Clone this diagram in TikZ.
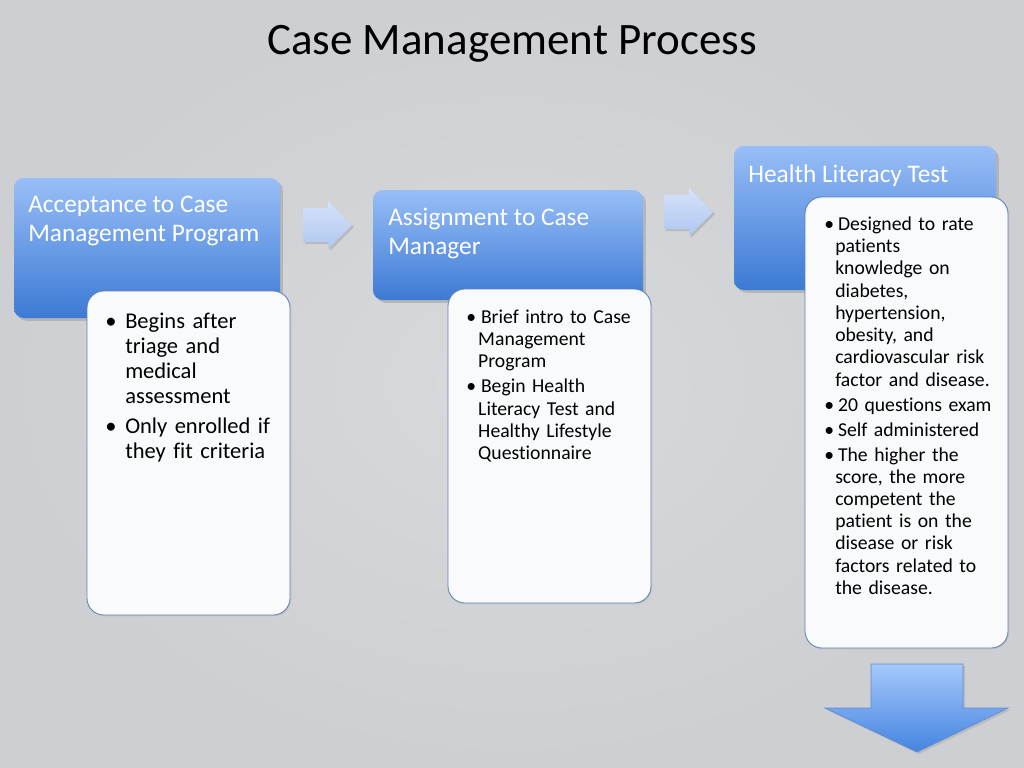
\documentclass[tikz,border=0pt]{standalone}
\usepackage{fontspec}
\setmainfont{Carlito}[Ligatures=NoCommon]
\usepackage{enumitem}
\usetikzlibrary{positioning}
\usetikzlibrary{fit}
\usetikzlibrary{shadows}

\definecolor{bgmid}{RGB}{216,217,219}
\definecolor{bgedge}{RGB}{206,207,210}
\definecolor{hdrtop}{RGB}{152,190,247}
\definecolor{hdrmid}{RGB}{118,166,238}
\definecolor{hdrbot}{RGB}{60,122,212}
\definecolor{bodyfill}{RGB}{249,250,251}
\definecolor{bodyline}{RGB}{96,128,180}
\definecolor{fwdtop}{RGB}{214,226,248}
\definecolor{fwdbot}{RGB}{174,199,241}
\definecolor{downtop}{RGB}{165,201,251}
\definecolor{downbot}{RGB}{68,132,224}
\definecolor{downline}{RGB}{98,138,208}

\setlist[itemize]{label=\textbullet, align=left, topsep=0pt, parsep=0pt, partopsep=0pt,
    before={\raggedright}}

\tikzset{
    hdrbox/.style={rounded corners=7pt, inner sep=0pt,
        top color=hdrtop, middle color=hdrmid, bottom color=hdrbot,
        drop shadow={shadow xshift=2pt, shadow yshift=-2pt, opacity=0.35}},
    bodybox/.style={rounded corners=12pt, inner sep=0pt, draw=bodyline, line width=0.6pt,
        fill=bodyfill,
        drop shadow={shadow xshift=1pt, shadow yshift=-1pt, opacity=0.15}},
    hdrtext/.style={anchor=north west, inner sep=0pt, align=left, text=white,
        font=\fontsize{18}{20.6}\selectfont},
    bodytext/.style={anchor=north west, inner sep=0pt, text width=4.5cm},
    fwdarrow/.style={top color=fwdtop, bottom color=fwdbot,
        drop shadow={shadow xshift=1.5pt, shadow yshift=-1.5pt, opacity=0.3}},
    downarrow/.style={top color=downtop, bottom color=downbot, draw=downline, line width=0.5pt,
        drop shadow={shadow xshift=1.5pt, shadow yshift=-1.5pt, opacity=0.25}}
}

\begin{document}
\begin{tikzpicture}[x=0.025cm, y=-0.025cm]
        \useasboundingbox (0,0) rectangle (1024,768);
        \shade[inner color=bgmid, outer color=bgedge] (0,0) rectangle (1024,768);

        \node[anchor=base, inner sep=0pt, font=\fontsize{32}{36}\selectfont] (title) at (512,55) {Case Management Process};

        % header boxes
        \node[hdrbox, fit={(14,178) (280,318)}] (hdrA) {};
        \node[hdrbox, fit={(373,190) (643,300)}] (hdrB) {};
        \node[hdrbox, fit={(734,146) (996,290)}] (hdrC) {};

        \node[hdrtext] (hdrAtxt) at (28,196) {Acceptance to Case\\Management Program};
        \node[hdrtext] (hdrBtxt) at (388,208) {Assignment to Case\\Manager};
        \node[hdrtext] (hdrCtxt) at (748,165) {Health Literacy Test};

        % step arrows
        \foreach \ax/\ay in {303/225, 664/212}
            \path[fwdarrow] (\ax,\ay) ++(0,-17) -- ++(25,0) -- ++(0,-7) -- ++(24,24) -- ++(-24,24) -- ++(0,-7) -- ++(-25,0) -- cycle;

        % detail boxes
        \node[bodybox, fit={(87,291) (290,615)}] (bodyA) {};
        \node[bodybox, fit={(448,289) (651,603)}] (bodyB) {};
        \node[bodybox, fit={(805,197) (1008,648)}] (bodyC) {};

        \node[bodytext, font=\fontsize{16}{17.9}\selectfont] (bodyAtxt) at (105,303) {%
            \begin{itemize}[leftmargin=14.2pt, labelwidth=8pt, labelsep=6.2pt, itemsep=3pt]
            \item Begins after\newline triage and\newline medical\newline assessment
            \item Only enrolled if\newline they fit criteria
            \end{itemize}};
        \node[bodytext, font=\fontsize{14}{15.8}\selectfont] (bodyBtxt) at (466,301) {%
            \begin{itemize}[leftmargin=8.5pt, labelwidth=5pt, labelsep=3.5pt, itemsep=2pt]
            \item Brief intro to Case\newline Management\newline Program
            \item Begin Health\newline Literacy Test and\newline Healthy Lifestyle\newline Questionnaire
            \end{itemize}};
        \node[bodytext, font=\fontsize{14}{15.8}\selectfont] (bodyCtxt) at (824,208) {%
            \begin{itemize}[leftmargin=7.8pt, labelwidth=5pt, labelsep=2.8pt, itemsep=2pt]
            \item Designed to rate\newline patients\newline knowledge on\newline diabetes,\newline hypertension,\newline obesity, and\newline cardiovascular risk\newline factor and disease.
            \item 20 questions exam
            \item Self administered
            \item The higher the\newline score, the more\newline competent the\newline patient is on the\newline disease or risk\newline factors related to\newline the disease.
            \end{itemize}};

        % next step arrow
        \path[downarrow] (871,664) -- (963,664) -- (963,708) -- (1008,708) -- (917,752) -- (825,708) -- (871,708) -- cycle;
    \end{tikzpicture}
\end{document}
